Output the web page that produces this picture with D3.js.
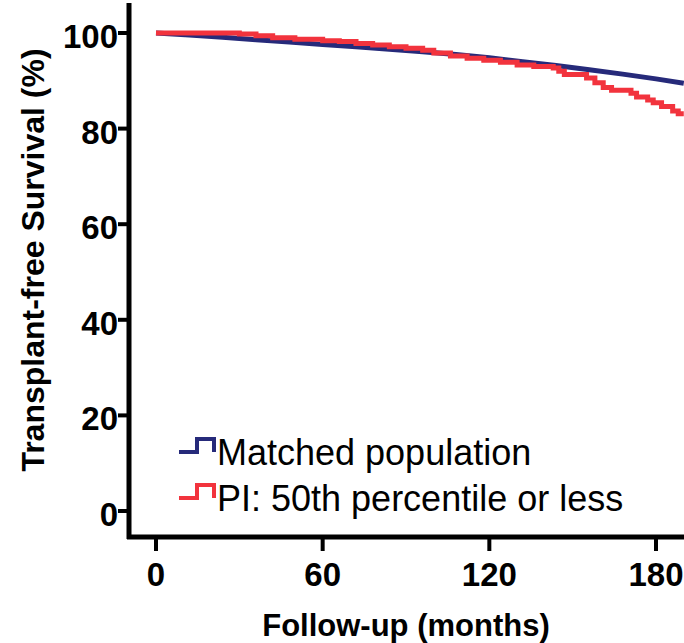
<!DOCTYPE html>
<html>
<head>
<meta charset="utf-8">
<script src="https://cdn.jsdelivr.net/npm/d3@7"></script>
<style>
  body { margin: 0; background: #fff; }
  svg text { font-family: "Liberation Sans", Arial, sans-serif; }
</style>
</head>
<body>
<svg id="chart" width="684" height="643"></svg>
<script>
// blue curve: matched population
var matchedMonths = [0, 12, 24, 36, 48, 60, 72, 84, 96, 108, 120, 132, 144, 156, 168, 180, 190];
var matchedSurv   = [100, 99.6, 99.1, 98.6, 98.1, 97.6, 97.1, 96.6, 96.1, 95.5, 94.8, 94.0, 93.2, 92.3, 91.4, 90.4, 89.5];

// red curve: PI 50th percentile or less (step curve)
var piMonths = [0, 30, 36, 42, 50, 60, 66, 72, 78, 84, 90, 96, 100, 106, 112, 118, 124, 130, 136, 143, 145, 147, 155, 158, 161, 164, 171, 173, 177, 179, 182, 186, 188, 190];
var piSurv   = [100, 99.8, 99.4, 99.0, 98.7, 98.4, 98.2, 97.8, 97.5, 97.1, 96.8, 96.4, 95.8, 95.2, 94.7, 94.3, 93.9, 93.3, 93.0, 92.7, 92.0, 91.3, 90.6, 89.6, 88.6, 88.0, 87.4, 86.6, 86.0, 85.4, 84.6, 83.7, 83.1, 83.1];

var xTicks = [0, 60, 120, 180];
var yTicks = [0, 20, 40, 60, 80, 100];
var legendLabels = ["Matched population", "PI: 50th percentile or less"];
var colors = ["#262a7a", "#f2333d"];

var svg = d3.select("#chart");

var x = d3.scaleLinear().domain([0, 180]).range([156, 656]);
var y = d3.scaleLinear().domain([0, 100]).range([511, 33]);

var axisX0 = 129, axisY0 = 537;

// axes lines
svg.append("line")
  .attr("x1", axisX0).attr("x2", axisX0)
  .attr("y1", 3).attr("y2", axisY0 + 2)
  .attr("stroke", "#000").attr("stroke-width", 5);
svg.append("line")
  .attr("x1", axisX0 - 2).attr("x2", 684)
  .attr("y1", axisY0).attr("y2", axisY0)
  .attr("stroke", "#000").attr("stroke-width", 5);

// y ticks
var yt = svg.append("g");
yt.selectAll("line").data(yTicks).enter().append("line")
  .attr("x1", axisX0 - 11).attr("x2", axisX0)
  .attr("y1", function(d){ return y(d) }).attr("y2", function(d){ return y(d) })
  .attr("stroke", "#000").attr("stroke-width", 4);
yt.selectAll("text").data(yTicks).enter().append("text")
  .attr("x", axisX0 - 11)
  .attr("y", function(d){ return y(d) + 15 })
  .attr("text-anchor", "end")
  .style("font-size", "33px").style("font-weight", "bold")
  .text(function(d){ return d });

// x ticks
var xt = svg.append("g");
xt.selectAll("line").data(xTicks).enter().append("line")
  .attr("x1", function(d){ return x(d) }).attr("x2", function(d){ return x(d) })
  .attr("y1", axisY0).attr("y2", axisY0 + 14)
  .attr("stroke", "#000").attr("stroke-width", 4);
xt.selectAll("text").data(xTicks).enter().append("text")
  .attr("x", function(d){ return x(d) })
  .attr("y", 586)
  .attr("text-anchor", "middle")
  .style("font-size", "33px").style("font-weight", "bold")
  .text(function(d){ return d });

// axis titles
svg.append("text")
  .attr("x", 406).attr("y", 636)
  .attr("text-anchor", "middle")
  .style("font-size", "31px").style("font-weight", "bold")
  .text("Follow-up (months)");
svg.append("text")
  .attr("transform", "translate(44,260) rotate(-90)")
  .attr("text-anchor", "middle")
  .style("font-size", "32px").style("font-weight", "bold")
  .text("Transplant-free Survival (%)");

// curves
var blueLine = d3.line()
  .x(function(d, i){ return x(matchedMonths[i]) })
  .y(function(d){ return y(d) });
var redLine = d3.line()
  .curve(d3.curveStepAfter)
  .x(function(d, i){ return x(piMonths[i]) })
  .y(function(d){ return y(d) });

svg.append("path")
  .attr("d", blueLine(matchedSurv))
  .attr("fill", "none").attr("stroke", colors[0]).attr("stroke-width", 5);
svg.append("path")
  .attr("d", redLine(piSurv))
  .attr("fill", "none").attr("stroke", colors[1]).attr("stroke-width", 5);

// legend
var legend = svg.append("g");
legendLabels.forEach(function(lab, i) {
  var ly = 452 + i * 46;
  legend.append("path")
    .attr("d", "M179," + ly + "H197V" + (ly - 13) + "H214V" + ly)
    .attr("fill", "none").attr("stroke", colors[i]).attr("stroke-width", 4);
  legend.append("text")
    .attr("x", 217).attr("y", ly + 13)
    .style("font-size", "36px")
    .text(lab);
});
</script>
</body>
</html>
